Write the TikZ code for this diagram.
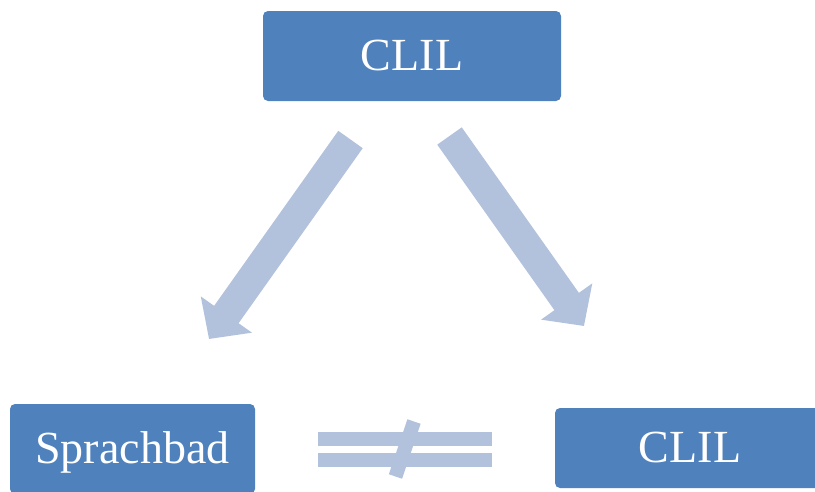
\documentclass[tikz,border=0pt]{standalone}
\usepackage{fontspec}
\setmainfont{Liberation Serif}
\usetikzlibrary{arrows.meta}
\definecolor{boxblue}{RGB}{79,129,189}
\definecolor{arrowblue}{RGB}{179,194,220}
\tikzset{
  box/.style={fill=boxblue, rounded corners=5pt, inner sep=0pt, text=white,
    font=\fontsize{46}{50}\selectfont, text height=30pt, text depth=2pt},
  bigarrow/.style={draw=arrowblue, line width=30pt,
    -{Triangle[length=30pt,width=61pt]}},
  eqbar/.style={fill=arrowblue},
  slash/.style={draw=arrowblue, line width=14pt}
}
\begin{document}
\begin{tikzpicture}[x=1pt,y=-1pt]
\useasboundingbox (0,0) rectangle (815,491);
\node[box, minimum width=298pt, minimum height=90pt] (top) at (412,56) {CLIL};
\node[box, minimum width=245pt, minimum height=90pt] (sb) at (132.5,449) {Sprachbad};
\node[box, minimum width=270pt, minimum height=80pt] (cl) at (690,448) {CLIL};
\coordinate (lt) at (350.5,139.5);
\coordinate (lh) at (209,339);
\coordinate (rt) at (449.5,136);
\coordinate (rh) at (584,326);
\draw[bigarrow] (lt) -- (lh);
\draw[bigarrow] (rt) -- (rh);
\fill[eqbar] (318,432) rectangle (492,446);
\fill[eqbar] (318,453) rectangle (492,467);
\coordinate (s1) at (414,421.5);
\coordinate (s2) at (395.5,476.5);
\draw[slash] (s1) -- (s2);
\end{tikzpicture}
\end{document}
